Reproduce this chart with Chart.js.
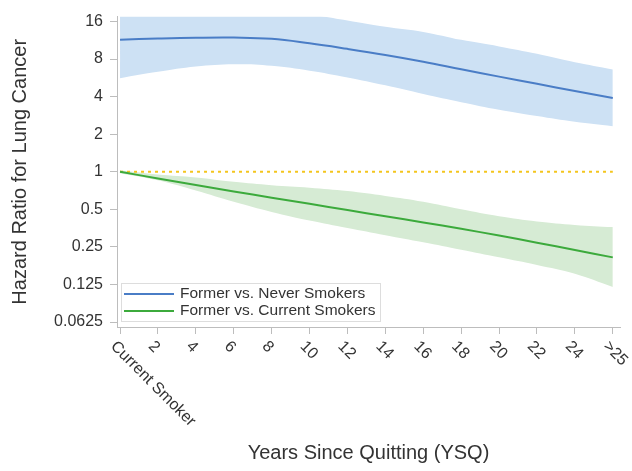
<!DOCTYPE html>
<html>
<head>
<meta charset="utf-8">
<script src="https://cdn.jsdelivr.net/npm/chart.js@4/dist/chart.umd.min.js"></script>
<style>
  html, body { margin: 0; padding: 0; background: #fff; }
  #wrap { width: 632px; height: 471px; }
</style>
</head>
<body>
<div id="wrap"><canvas id="myChart" width="632" height="471"></canvas></div>
<script>
// x categories (years since quitting)
const xLabels = ["Current Smoker", "2", "4", "6", "8", "10", "12", "14", "16", "18", "20", "22", "24", ">25"];

// y tick values (log2 scale) and their text
const yTickValues = [0.0625, 0.125, 0.25, 0.5, 1, 2, 4, 8, 16];
const yTickLabels = ["0.0625", "0.125", "0.25", "0.5", "1", "2", "4", "8", "16"];

// Former vs. Never smokers: estimate and confidence band
const neverHR    = [11.43, 11.67, 11.84, 11.88, 11.63, 10.7, 9.65, 8.63, 7.62, 6.63, 5.78, 5.06, 4.44, 3.89];
const neverLower = [5.62, 6.32, 6.96, 7.26, 7.06, 6.45, 5.7, 4.92, 4.2, 3.61, 3.14, 2.79, 2.51, 2.31];
const neverUpper = [24, 24, 24, 24, 22, 18.4, 16.3, 14.5, 13.2, 11.4, 10.1, 8.8, 7.53, 6.6];

// Former vs. Current smokers: estimate and confidence band
const currentHR    = [1.0, 0.883, 0.782, 0.695, 0.62, 0.553, 0.493, 0.44, 0.392, 0.349, 0.308, 0.27, 0.236, 0.206];
const currentLower = [0.973, 0.853, 0.707, 0.574, 0.476, 0.406, 0.354, 0.31, 0.272, 0.237, 0.206, 0.179, 0.152, 0.119];
const currentUpper = [1.03, 0.95, 0.9, 0.83, 0.78, 0.745, 0.7, 0.64, 0.575, 0.5, 0.44, 0.4, 0.375, 0.36];

// reference line HR = 1
const refValues = [1, 1, 1, 1, 1, 1, 1, 1, 1, 1, 1, 1, 1, 1];

const seriesNames = ["Former vs. Never Smokers", "Former vs. Current Smokers"];

function toPoints(values)
{
    return values.map((v, i) => ({ x: i, y: v }));
}

const textColor = "#333333";
const axisColor = "#bdbdbd";
const blue = "#4a7dc6";
const green = "#3caa3c";
const fontFamily = "'Liberation Sans', Arial, sans-serif";

// draws the legend box inside the plot, lower left
const legendInside = {
    id: "legendInside",
    afterDraw(chart)
    {
        const ctx = chart.ctx;
        const area = chart.chartArea;
        const x = area.left + 4;
        const y = area.bottom - 44;
        ctx.save();
        ctx.fillStyle = "#ffffff";
        ctx.strokeStyle = "#dddddd";
        ctx.lineWidth = 1;
        ctx.fillRect(x, y, 259, 38);
        ctx.strokeRect(x + 0.5, y + 0.5, 259, 38);
        const colors = [blue, green];
        ctx.font = "15.5px " + fontFamily;
        ctx.textBaseline = "middle";
        ctx.textAlign = "left";
        seriesNames.forEach((name, i) =>
        {
            const rowY = y + 11 + i * 17;
            ctx.strokeStyle = colors[i];
            ctx.lineWidth = 2;
            ctx.beginPath();
            ctx.moveTo(x + 3, rowY);
            ctx.lineTo(x + 53, rowY);
            ctx.stroke();
            ctx.fillStyle = textColor;
            ctx.fillText(name, x + 59, rowY);
        });
        ctx.restore();
    }
};

// x tick labels slant down to the right, starting at the tick
const slantedLabels = {
    id: "slantedLabels",
    afterDraw(chart)
    {
        const ctx = chart.ctx;
        const scale = chart.scales.x;
        ctx.save();
        ctx.font = "16px " + fontFamily;
        ctx.fillStyle = textColor;
        ctx.textAlign = "left";
        ctx.textBaseline = "middle";
        scale.ticks.forEach((tick, i) =>
        {
            const px = scale.getPixelForTick(i);
            ctx.save();
            ctx.translate(px - 7, scale.top + 17);
            ctx.rotate(Math.PI / 4);
            ctx.fillText(xLabels[i], 0, 0);
            ctx.restore();
        });
        ctx.restore();
    }
};

function lineSet(label, values, color)
{
    return {
        label: label,
        data: toPoints(values),
        borderColor: color,
        borderWidth: 2,
        pointRadius: 0,
        tension: 0.4,
        fill: false
    };
}

function bandEdge(label, values, fillTarget, color)
{
    return {
        label: label,
        data: toPoints(values),
        borderWidth: 0,
        borderColor: "rgba(0,0,0,0)",
        pointRadius: 0,
        tension: 0.4,
        backgroundColor: color,
        fill: fillTarget
    };
}

function createGraph()
{
    const ctx = document.getElementById("myChart");

    const refSet = lineSet("ref", refValues, "#f4c51c");
    refSet.borderDash = [3, 4];
    refSet.tension = 0;

    const data = {
        datasets: [
            lineSet(seriesNames[0], neverHR, blue),
            lineSet(seriesNames[1], currentHR, green),
            refSet,
            bandEdge("never lower", neverLower, false, "rgba(0,0,0,0)"),
            bandEdge("never upper", neverUpper, 3, "#cde1f4"),
            bandEdge("current lower", currentLower, false, "rgba(0,0,0,0)"),
            bandEdge("current upper", currentUpper, 5, "#d6ebd4")
        ]
    };

    new Chart(ctx, {
        type: "line",
        data: data,
        plugins: [legendInside, slantedLabels],
        options: {
            responsive: false,
            animation: false,
            layout: { padding: { top: 14, right: 12, left: 0, bottom: 0 } },
            plugins: {
                legend: { display: false },
                tooltip: { enabled: false }
            },
            scales: {
                x: {
                    type: "linear",
                    min: -0.08,
                    max: 13.19,
                    afterBuildTicks: scale =>
                    {
                        scale.ticks = xLabels.map((_, i) => ({ value: i }));
                    },
                    afterFit: scale => { scale.height = 144; },
                    ticks: { display: false },
                    grid: {
                        drawOnChartArea: false,
                        drawTicks: true,
                        tickLength: 7,
                        color: axisColor
                    },
                    border: { color: axisColor },
                    title: {
                        display: true,
                        text: "Years Since Quitting (YSQ)",
                        color: textColor,
                        font: { family: fontFamily, size: 20 },
                        padding: { top: 0, bottom: 6 }
                    }
                },
                y: {
                    type: "logarithmic",
                    min: 0.057,
                    max: 17.5,
                    afterBuildTicks: scale =>
                    {
                        scale.ticks = yTickValues.map(v => ({ value: v }));
                    },
                    afterFit: scale => { scale.width = 117; },
                    ticks: {
                        color: textColor,
                        padding: 7,
                        font: { family: fontFamily, size: 16 },
                        callback: (value, index) => yTickLabels[index]
                    },
                    grid: {
                        drawOnChartArea: false,
                        drawTicks: true,
                        tickLength: 7,
                        color: axisColor
                    },
                    border: { color: axisColor },
                    title: {
                        display: true,
                        text: "Hazard Ratio for Lung Cancer",
                        color: textColor,
                        font: { family: fontFamily, size: 20 },
                        padding: { top: 8, bottom: 0 }
                    }
                }
            }
        }
    });
}
createGraph();
</script>
</body>
</html>
